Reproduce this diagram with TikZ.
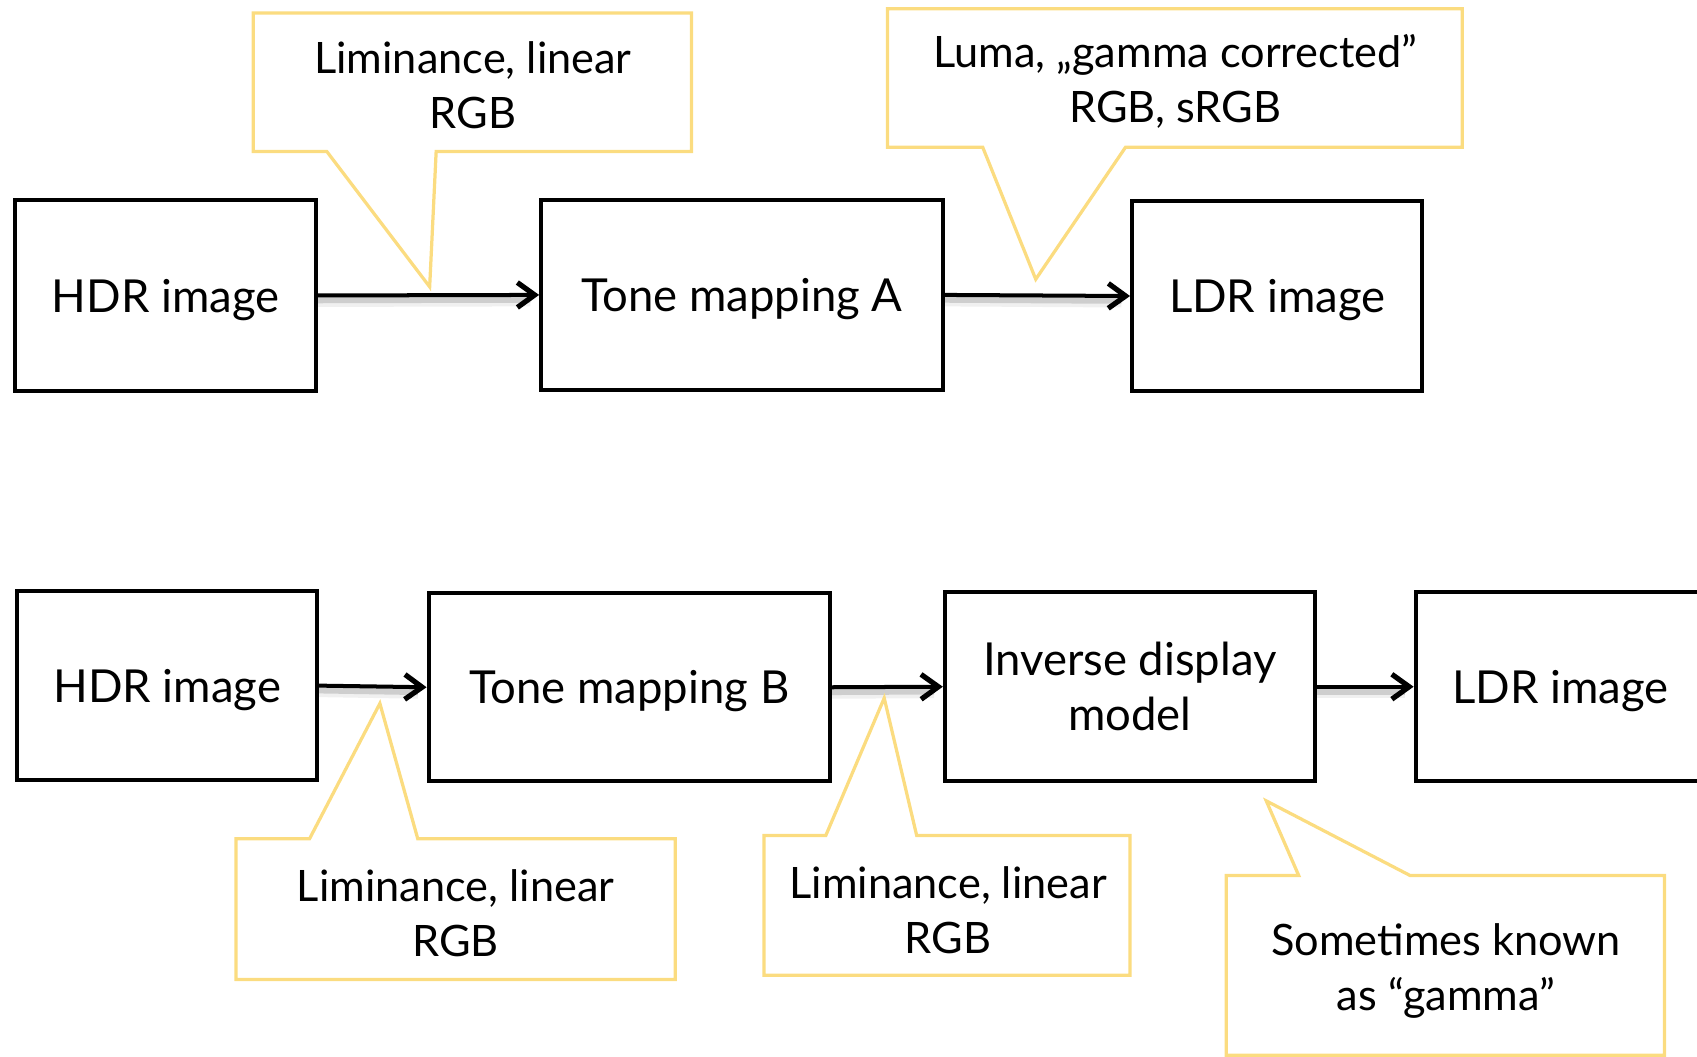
\documentclass[tikz,border=0pt]{standalone}
\usepackage{fontspec}
\setmainfont{Lato}
\usetikzlibrary{arrows.meta}
\definecolor{calloutgold}{RGB}{251,220,128}
\begin{document}
\begin{tikzpicture}[x=0.5pt,y=-0.5pt,
  stage/.style={draw=black, line width=1.85pt, rectangle, align=center, inner sep=0pt,
    text depth=0pt, font=\fontsize{21}{25.5}\selectfont},
  note/.style={rectangle, align=center, inner sep=0pt, font=\fontsize{20}{25.5}\selectfont},
  callout/.style={draw=calloutgold, line width=1.5pt, line join=miter},
  flow/.style={draw=black, line width=1.85pt,
    -{Straight Barb[length=8pt,width=11.5pt,line width=2.4pt]}},
  flowshadow/.style={draw=black, line width=2.8pt, opacity=0.14},
]
\useasboundingbox (0,0) rectangle (1568,976);

% process stages, upper chain
\node[stage, minimum width=139pt, minimum height=88pt] (hdrA) at (153,273) {HDR image};
\node[stage, minimum width=185.5pt, minimum height=87.5pt] (tmA) at (685.5,272.5) {Tone mapping A};
\node[stage, minimum width=134pt, minimum height=87.5pt] (ldrA) at (1180,273.5) {LDR image};

% process stages, lower chain
\node[stage, minimum width=138.5pt, minimum height=87.5pt] (hdrB) at (154.5,633.5) {HDR image};
\node[stage, minimum width=185.5pt, minimum height=87pt] (tmB) at (581.5,635) {Tone mapping B};
\node[stage, minimum width=171pt, minimum height=87.5pt, text depth=] (inv) at (1044,634.5) {Inverse display\\model};
\node[stage, minimum width=134pt, minimum height=87.5pt] (ldrB) at (1442,634.5) {LDR image};

% soft shadows under the connectors
\foreach \a/\b in {hdrA/tmA, tmA/ldrA, hdrB/tmB, tmB/inv, inv/ldrB}{
  \draw[flowshadow] ([yshift=-2.2pt]\a.east) -- ([yshift=-2.2pt,xshift=-4pt]\b.west);
  \draw[flowshadow, line width=5pt, opacity=0.06] ([yshift=-2.8pt]\a.east) -- ([yshift=-2.8pt,xshift=-4pt]\b.west);
}

% connectors
\draw[flow] (hdrA.east) -- (tmA.west);
\draw[flow] (tmA.east) -- (ldrA.west);
\draw[flow] (hdrB.east) -- (tmB.west);
\draw[flow] (tmB.east) -- (inv.west);
\draw[flow] (inv.east) -- (ldrB.west);

% callout texts
\node[note] (c1) at (437,79) {Liminance, linear\\RGB};
\node[note] (c2) at (1086,75) {Luma, „gamma corrected”\\RGB, sRGB};
\node[note] (c3) at (421,844) {Liminance, linear\\RGB};
\node[note] (c4) at (876,841) {Liminance, linear\\RGB};
\node[note] (c5) at (1336,897) {Sometimes known\\as “gamma”};

% callout pointer tips
\coordinate (t1) at (397,265);
\coordinate (t2) at (957,258);
\coordinate (t3) at (351,650);
\coordinate (t4) at (817,645);
\coordinate (t5) at (1170,740);

% callout outlines with pointers
\draw[callout] (234,12) -- (639,12) -- (639,140) -- (403,140) -- (t1) -- (302,140) -- (234,140) -- cycle;
\draw[callout] (820,8) -- (1351,8) -- (1351,136) -- (1040,136) -- (t2) -- (908,136) -- (820,136) -- cycle;
\draw[callout] (218,775) -- (286,775) -- (t3) -- (386,775) -- (624,775) -- (624,905) -- (218,905) -- cycle;
\draw[callout] (706,772) -- (763,772) -- (t4) -- (847,772) -- (1044,772) -- (1044,901) -- (706,901) -- cycle;
\draw[callout] (1133,809) -- (1200,809) -- (t5) -- (1303,809) -- (1538,809) -- (1538,975) -- (1133,975) -- cycle;
\end{tikzpicture}
\end{document}
